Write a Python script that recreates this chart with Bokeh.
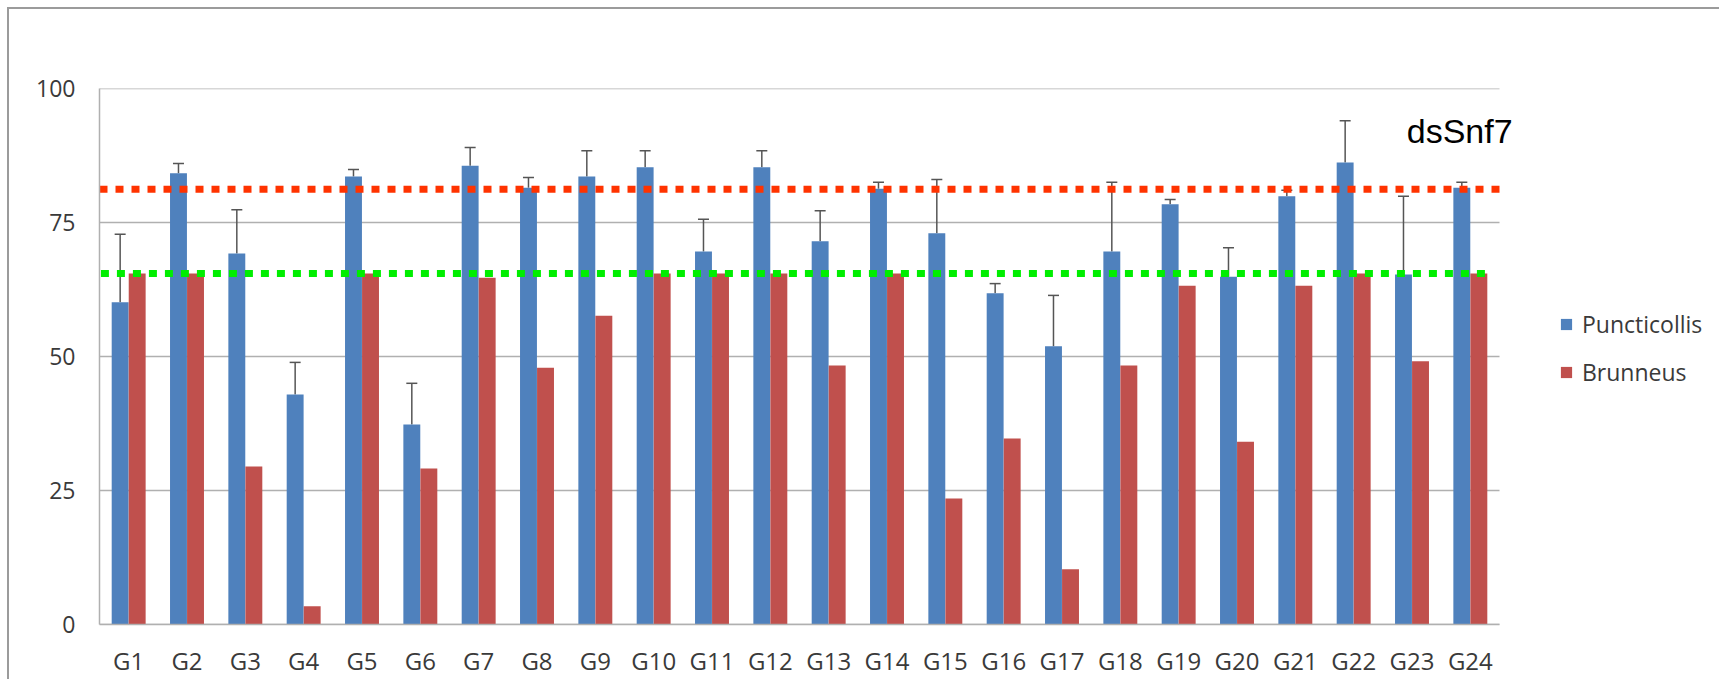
from bokeh.plotting import figure
from bokeh.models import (ColumnDataSource, Whisker, TeeHead, Legend, LegendItem,
                          Label, FixedTicker)
from bokeh.transform import dodge
from bokeh.embed import file_html
from bokeh.resources import INLINE

# ---------------- data ----------------
groups = ["G1", "G2", "G3", "G4", "G5", "G6", "G7", "G8", "G9", "G10", "G11", "G12",
          "G13", "G14", "G15", "G16", "G17", "G18", "G19", "G20", "G21", "G22", "G23", "G24"]
puncticollis = [60.1, 84.2, 69.2, 42.9, 83.6, 37.3, 85.6, 81.5, 83.6, 85.3, 69.6, 85.3,
                71.5, 81.3, 73.0, 61.8, 51.9, 69.6, 78.4, 64.9, 79.9, 86.2, 65.3, 81.5]
puncticollis_err = [12.7, 1.8, 8.2, 6.0, 1.3, 7.7, 3.4, 1.9, 4.8, 3.1, 6.0, 3.1,
                    5.7, 1.2, 10.0, 1.8, 9.5, 12.9, 0.9, 5.4, 1.1, 7.8, 14.6, 1.0]
brunneus = [65.5, 65.5, 29.5, 3.4, 65.5, 29.1, 64.7, 47.9, 57.6, 65.5, 65.5, 65.5,
            48.3, 65.5, 23.5, 34.7, 10.3, 48.3, 63.2, 34.1, 63.2, 65.5, 49.1, 65.5]
y_ticks = [0, 25, 50, 75, 100]
red_threshold = 81.2
green_threshold = 65.5
annotation_text = "dsSnf7"

# ---------------- layout constants ----------------
W, H = 1712, 672
MB_LEFT, MB_TOP, MB_BOTTOM = 90, 79, 57
PLOT_W = 1400          # pixel width of the 24 categories
n = len(groups)
frame_w = W - MB_LEFT
x_end = 0.5 + n * frame_w / PLOT_W

pos = list(range(1, n + 1))
src = ColumnDataSource(dict(
    x=pos,
    punct=puncticollis,
    brun=brunneus,
    upper=[v + e for v, e in zip(puncticollis, puncticollis_err)],
))

p = figure(width=W, height=H, x_range=(0.5, x_end), y_range=(0, 100),
           output_backend="svg", toolbar_location=None,
           min_border_left=MB_LEFT, min_border_top=MB_TOP, min_border_right=0,
           min_border_bottom=MB_BOTTOM)
p.styles = {"border-top": "2px solid #9b9b9b", "border-left": "2px solid #9b9b9b",
            "margin-left": "7px", "margin-top": "7px"}
p.background_fill_color = "white"
p.border_fill_color = "white"
p.outline_line_color = None

blue = "#4F81BD"
red = "#C0504D"
grid_col = "#b0b0b0"
bw = 0.29
off = 0.146

# horizontal grid lines limited to the category area
grid = p.segment(x0=0.5, x1=n + 0.5, y0=y_ticks, y1=y_ticks,
                 line_color=grid_col, line_width=1.5)
grid.level = "underlay"

rb = p.vbar(x=dodge("x", -off), top="punct", width=bw, source=src,
            fill_color=blue, line_color=None)
rr = p.vbar(x=dodge("x", off), top="brun", width=bw, source=src,
            fill_color=red, line_color=None)

wh = Whisker(base=dodge("x", -off), lower="punct", upper="upper", source=src,
             line_color="#555555", line_width=1.5,
             upper_head=TeeHead(size=11, line_color="#555555", line_width=1.5),
             lower_head=None)
p.add_layout(wh)

p.segment(x0=[0.5], x1=[n + 0.5], y0=[red_threshold], y1=[red_threshold],
          line_color="#FF3300", line_width=7, line_dash="8 8")
p.segment(x0=[0.25], x1=[n + 0.27], y0=[green_threshold], y1=[green_threshold],
          line_color="#00EE00", line_width=7, line_dash="8 8")

p.add_layout(Label(x=22.91, y=92.0, text=annotation_text, text_font="Liberation Sans",
                   text_font_size="34px", text_color="black", text_baseline="middle",
                   text_align="left"))

# axes
p.xgrid.grid_line_color = None
p.ygrid.grid_line_color = None
p.yaxis.ticker = FixedTicker(ticks=y_ticks)
p.xaxis.ticker = FixedTicker(ticks=pos)
p.xaxis.major_label_overrides = {i: g for i, g in zip(pos, groups)}
p.xaxis.bounds = (0.5, n + 0.5)
for ax in (p.xaxis, p.yaxis):
    ax.axis_line_color = grid_col
    ax.axis_line_width = 1.5
    ax.major_tick_line_color = None
    ax.minor_tick_line_color = None
    ax.major_tick_out = 0
    ax.major_tick_in = 0
    ax.major_label_text_font = "Open Sans"
    ax.major_label_text_color = "#3a3a3a"
p.xaxis.major_label_text_font_size = "24px"
p.yaxis.major_label_text_font_size = "23px"
p.xaxis.major_label_standoff = 19
p.yaxis.major_label_standoff = 24

legend = Legend(items=[LegendItem(label="Puncticollis", renderers=[rb]),
                       LegendItem(label="Brunneus", renderers=[rr])],
                location=(1460, 236), glyph_width=14, glyph_height=14,
                label_standoff=9, padding=0, margin=0, spacing=16,
                label_text_font="Open Sans", label_text_font_size="23px",
                label_text_color="#3a3a3a", border_line_color=None,
                background_fill_alpha=0)
p.add_layout(legend)

open("out.html", "w").write(file_html(p, INLINE))
